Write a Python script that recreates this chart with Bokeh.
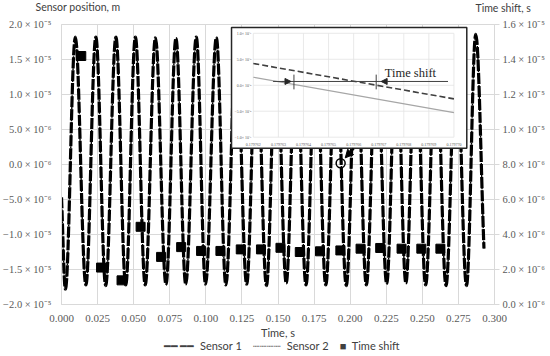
from bokeh.plotting import figure
from bokeh.models import (Range1d, LinearAxis, FixedTicker, Label, Arrow, NormalHead)
from bokeh.core.properties import value
from bokeh.embed import file_html
from bokeh.resources import INLINE

# ---------------- data ----------------
start_t, start_v = 0.0, -4.7e-6
end_t, end_v = 0.2927, -1.2e-5
trough_t = [0.0027, 0.0169, 0.0306, 0.0445, 0.0580, 0.0724, 0.0861, 0.0998, 0.1139, 0.1283,
            0.1420, 0.1557, 0.1694, 0.1831, 0.1973, 0.2112, 0.2253, 0.2386, 0.2523, 0.2664, 0.2806]
trough_v = [-1.78e-5, -1.72e-5, -1.73e-5, -1.72e-5, -1.72e-5, -1.71e-5, -1.71e-5, -1.71e-5,
            -1.72e-5, -1.71e-5, -1.73e-5, -1.69e-5, -1.72e-5, -1.72e-5, -1.73e-5, -1.72e-5,
            -1.70e-5, -1.69e-5, -1.72e-5, -1.73e-5, -1.73e-5]
peak_t = [0.0096, 0.0238, 0.0377, 0.0512, 0.0651, 0.0793, 0.0934, 0.1073, 0.1211, 0.1351,
          0.1488, 0.1625, 0.1762, 0.1902, 0.2043, 0.2183, 0.2320, 0.2454, 0.2594, 0.2735, 0.2870]
peak_v = [1.82e-5, 1.82e-5, 1.82e-5, 1.82e-5, 1.81e-5, 1.80e-5, 1.82e-5, 1.81e-5, 1.82e-5,
          1.82e-5, 1.82e-5, 1.82e-5, 1.82e-5, 1.82e-5, 1.82e-5, 1.82e-5, 1.82e-5, 1.82e-5,
          1.82e-5, 1.82e-5, 1.86e-5]

shift_t = [0.0137, 0.0274, 0.0416, 0.0548, 0.0690, 0.0829, 0.0967, 0.1101, 0.1242, 0.1382,
           0.1517, 0.1651, 0.1791, 0.1932, 0.2072, 0.2208, 0.2356, 0.2493, 0.2625]
shift_v = [1.42e-5, 2.11e-6, 1.38e-6, 4.44e-6, 2.72e-6, 3.28e-6, 3.06e-6, 3.06e-6, 3.15e-6,
           3.15e-6, 3.24e-6, 3.00e-6, 3.04e-6, 3.09e-6, 3.19e-6, 3.23e-6, 3.19e-6, 3.19e-6, 3.19e-6]

x_ticks = [0.0, 0.025, 0.05, 0.075, 0.1, 0.125, 0.15, 0.175, 0.2, 0.225, 0.25, 0.275, 0.3]
x_tick_labels = ["0.000", "0.025", "0.050", "0.075", "0.100", "0.125", "0.150", "0.175",
                 "0.200", "0.225", "0.250", "0.275", "0.300"]
left_ticks = [2e-5, 1.5e-5, 1e-5, 5e-6, 0.0, -5e-6, -1e-5, -1.5e-5, -2e-5]
left_tick_labels = ["2.0 × 10⁻⁵", "1.5 × 10⁻⁵", "1.0 × 10⁻⁵", "5.0 × 10⁻⁶", "0.0 × 10⁻⁶",
                    "−5.0 × 10⁻⁶", "−1.0 × 10⁻⁵", "−1.5 × 10⁻⁵", "−2.0 × 10⁻⁵"]
right_ticks = [1.6e-5, 1.4e-5, 1.2e-5, 1e-5, 8e-6, 6e-6, 4e-6, 2e-6, 0.0]
right_tick_labels = ["1.6 × 10⁻⁵", "1.4 × 10⁻⁵", "1.2 × 10⁻⁵", "1.0 × 10⁻⁵", "8.0 × 10⁻⁶",
                     "6.0 × 10⁻⁶", "4.0 × 10⁻⁶", "2.0 × 10⁻⁶", "0.0 × 10⁻⁶"]
axis_titles = ["Sensor position, m", "Time shift, s"]
legend_labels = ["Sensor 1", "Sensor 2", "Time shift"]
legend_symbols = ["━━ ━━", "┈┈┈┈", "■"]

# inset (zoom on one zero crossing)
inset_t = [0.179762, 0.179770]
inset_s1 = [4.19e-8, -2.62e-8]
inset_s2 = [1.54e-8, -5.27e-8]
inset_x_ticks = [0.179762, 0.179763, 0.179764, 0.179765, 0.179766, 0.179767, 0.179768,
                 0.179769, 0.179770]
inset_x_labels = ["0.179762", "0.179763", "0.179764", "0.179765", "0.179766", "0.179767",
                  "0.179768", "0.179769", "0.179770"]
inset_y_ticks = [1e-7, 5e-8, 0.0, -5e-8, -1e-7]
inset_y_labels = ["1.0× 10⁻⁷", "5.0× 10⁻⁸", "0.0× 10⁻⁸", "−5.0× 10⁻⁸", "−1.0× 10⁻⁷"]
shift_mark_t = [0.17976362, 0.17976690]

# ---------------- layout / style constants ----------------
GRID = "#d9d9d9"
TXT = "#404040"
SERIF = "Liberation Serif"
SANS = "Lato"
NB = "\u00a0"
K = 0.363  # bezier control factor for sine-like half waves
INSET_BOX = dict(left=0.1178, right=0.2808, bottom=2.32e-6, top=1.958e-5)
INNER_L, INNER_R, INNER_B, INNER_T = 0.1329, 0.2719, 3.90e-6, 1.874e-5

p = figure(width=548, height=354, x_range=Range1d(0, 0.3),
           y_range=Range1d(-2e-5, 2e-5), output_backend="svg", toolbar_location=None,
           min_border_left=56, min_border_right=54, min_border_top=22, min_border_bottom=47,
           background_fill_color="white", border_fill_color="white",
           outline_line_color=GRID)

# inset coordinate systems mapped onto the inner inset rectangle
sx = (inset_t[-1] - inset_t[0]) / (INNER_R - INNER_L)
ix0 = inset_t[0] - (INNER_L - 0.0) * sx
ix1 = inset_t[0] + (0.3 - INNER_L) * sx
sy = (inset_y_ticks[0] - inset_y_ticks[-1]) / (INNER_T - INNER_B)
iy0 = inset_y_ticks[-1] - (INNER_B + 2e-5) * sy
iy1 = inset_y_ticks[-1] + (2e-5 - INNER_B) * sy
p.extra_x_ranges = {"ix": Range1d(ix0, ix1)}
p.extra_y_ranges = {"shift": Range1d(0, 1.6e-5), "iy": Range1d(iy0, iy1)}

# axes
xa = p.xaxis[0]
xa.ticker = FixedTicker(ticks=x_ticks)
xa.major_label_overrides = dict(zip(x_ticks, x_tick_labels))
ya = p.yaxis[0]
ya.ticker = FixedTicker(ticks=left_ticks)
ya.major_label_overrides = dict(zip(left_ticks, left_tick_labels))
ra = LinearAxis(y_range_name="shift", ticker=FixedTicker(ticks=right_ticks),
                major_label_overrides=dict(zip(right_ticks, right_tick_labels)))
p.add_layout(ra, "right")
for ax in (xa, ya, ra):
    ax.axis_line_color = GRID
    ax.major_tick_line_color = None
    ax.minor_tick_line_color = None
    ax.major_label_text_font = SERIF
    ax.major_label_text_font_size = "10.5px"
    ax.major_label_text_color = "#595959"
    ax.major_label_standoff = 3
ya.major_label_standoff = 4
ra.major_tick_line_color = GRID
ra.major_tick_out = 5
ra.major_tick_in = 0
xa.major_label_text_font_size = "11px"
xa.major_label_standoff = 4
xa.axis_label = "Time, s"
xa.axis_label_text_font = SANS
xa.axis_label_text_font_style = "normal"
xa.axis_label_text_font_size = "11px"
xa.axis_label_text_color = TXT
xa.axis_label_standoff = 1
p.grid.grid_line_color = GRID

# sensor curves: half waves between extrema drawn as cubic beziers
pts_t = [start_t]
pts_v = [start_v]
for a, b, c, d in zip(trough_t, trough_v, peak_t, peak_v):
    pts_t += [a, c]
    pts_v += [b, d]
pts_t.append(end_t)
pts_v.append(end_v)
n = len(pts_t) - 1
x0 = pts_t[:-1]; y0 = pts_v[:-1]; x1 = pts_t[1:]; y1 = pts_v[1:]
cx0, cy0, cx1, cy1 = [], [], [], []
for i in range(n):
    dx = x1[i] - x0[i]
    dy = y1[i] - y0[i]
    cx0.append(x0[i] + K * dx)
    cy0.append(y0[i] + (K * dy if i == 0 else 0.0))
    cx1.append(x1[i] - K * dx)
    cy1.append(y1[i] - (K * dy if i == n - 1 else 0.0))
bz = dict(x0=x0, y0=y0, x1=x1, y1=y1, cx0=cx0, cy0=cy0, cx1=cx1, cy1=cy1)
p.bezier(**bz, line_color="black", line_width=3.2, line_dash="11 2")
p.bezier(**bz, line_color="black", line_width=1.4, line_dash="2 1")

# time shift squares
p.scatter(shift_t, shift_v, y_range_name="shift", marker="square", size=9,
          fill_color="black", line_color="black")

# ---------------- inset ----------------
p.quad(**INSET_BOX, fill_color="white", line_color="#262626", line_width=1.5)
nxt = len(inset_x_ticks)
nyt = len(inset_y_ticks)
p.segment(x0=inset_x_ticks, y0=[inset_y_ticks[-1]] * nxt, x1=inset_x_ticks,
          y1=[inset_y_ticks[0]] * nxt, x_range_name="ix", y_range_name="iy",
          line_color="#e3e3e3", line_width=0.8)
p.segment(x0=[inset_x_ticks[0]] * nyt, y0=inset_y_ticks, x1=[inset_x_ticks[-1]] * nyt,
          y1=inset_y_ticks, x_range_name="ix", y_range_name="iy",
          line_color="#e3e3e3", line_width=0.8)
p.line(inset_t, inset_s2, x_range_name="ix", y_range_name="iy", line_color="#a6a6a6",
       line_width=1.2)
p.line(inset_t, inset_s1, x_range_name="ix", y_range_name="iy", line_color="#404040",
       line_width=1.6, line_dash="6 3")
px_x = (inset_t[-1] - inset_t[0]) / 203.0          # inset x units per px
px_y = (inset_y_ticks[0] - inset_y_ticks[-1]) / 106.0  # inset y units per px
p.text(x=inset_x_ticks, y=[inset_y_ticks[-1] - 7 * px_y] * nxt, text=inset_x_labels,
       x_range_name="ix", y_range_name="iy", text_font=value(SERIF), text_font_size="4px",
       text_align="center", text_baseline="middle", text_color="#595959")
p.text(x=[inset_t[0] - 2 * px_x] * nyt, y=inset_y_ticks, text=inset_y_labels,
       x_range_name="ix", y_range_name="iy", text_font=value(SERIF), text_font_size="4px",
       text_align="right", text_baseline="middle", text_color="#595959")

# time-shift annotation in the inset
ya_line = 7.3e-9
p.segment(x0=[inset_t[0] + 20 * px_x], y0=[ya_line], x1=[inset_t[0] + 197 * px_x], y1=[ya_line],
          x_range_name="ix", y_range_name="iy", line_color="#404040", line_width=1)
p.segment(x0=shift_mark_t, y0=[2.05e-8] * 2, x1=shift_mark_t, y1=[-7.9e-9] * 2,
          x_range_name="ix", y_range_name="iy", line_color="#404040", line_width=1)
for xs, xe in ((shift_mark_t[0] - 12 * px_x, shift_mark_t[0] - 3 * px_x),
               (shift_mark_t[1] + 14 * px_x, shift_mark_t[1] + 5 * px_x)):
    p.add_layout(Arrow(end=NormalHead(size=6, fill_color="#262626", line_color="#262626"),
                       x_start=xs, y_start=ya_line, x_end=xe, y_end=ya_line,
                       x_range_name="ix", y_range_name="iy", line_color="#404040",
                       line_width=1))
p.add_layout(Label(x=inset_t[0] + 133 * px_x, y=2.3e-8, x_range_name="ix", y_range_name="iy",
                   text="Time shift", text_font=SERIF, text_font_size="12.5px",
                   text_color="#262626", text_baseline="middle"))

# pointer from inset to the zoomed zero crossing
p.add_layout(Arrow(end=NormalHead(size=8, fill_color="black", line_color="black"),
                   x_start=0.2025, y_start=2.3e-6, x_end=0.1966, y_end=9.5e-7,
                   line_color="black", line_width=2.2))
p.scatter([0.1934], [1.7e-7], marker="circle", size=9, fill_alpha=0,
          line_color="black", line_width=1.5)

# axis titles in the top side panel (each label gets its own stacked panel)
p.add_layout(Label(x=-26, y=18, x_units="screen", y_units="screen",
                   text=axis_titles[0], text_font=SANS, text_font_size="10.5px",
                   text_color=TXT, text_baseline="middle"), "above")
p.add_layout(Label(x=414, y=5, x_units="screen", y_units="screen",
                   text=axis_titles[1], text_font=SANS, text_font_size="10.5px",
                   text_color=TXT, text_baseline="middle"), "above")

# legend line below the axis title
gap = NB * 4
legend_text = gap.join(s + NB + NB + lab for s, lab in zip(legend_symbols, legend_labels))
p.add_layout(Label(x=102, y=9, x_units="screen", y_units="screen",
                   text=legend_text, text_font=SANS, text_font_size="11px",
                   text_color=TXT, text_baseline="middle"), "below")

open("out.html", "w").write(file_html(p, INLINE))
